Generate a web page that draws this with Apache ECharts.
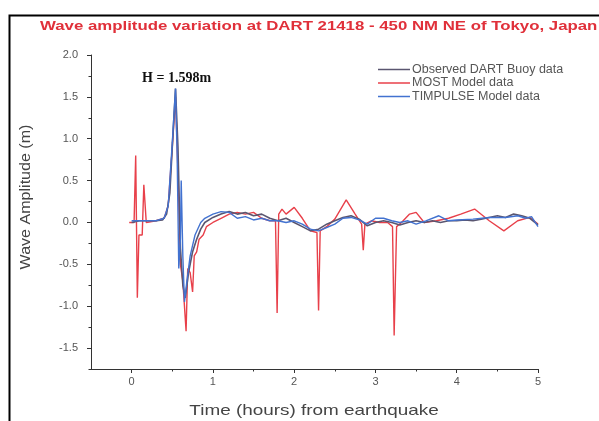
<!DOCTYPE html>
<html>
<head>
<meta charset="utf-8">
<script src="https://cdn.jsdelivr.net/npm/echarts@6/dist/echarts.min.js"></script>
<style>html,body{margin:0;padding:0;background:#fff}#c{width:599px;height:421px}</style>
</head>
<body>
<div id="c"></div>
<script>
const titleText = 'Wave amplitude variation at DART 21418 - 450 NM NE of Tokyo, Japan';
const xAxisTitle = 'Time (hours) from earthquake';
const yAxisTitle = 'Wave Amplitude (m)';
const seriesNames = ['Observed DART Buoy data', 'MOST Model data', 'TIMPULSE Model data'];
const xTickLabels = [0, 1, 2, 3, 4, 5];
const yTickLabels = [-1.5, -1.0, -0.5, 0.0, 0.5, 1.0, 1.5, 2.0];
const peakLabel = 'H = 1.598m';
const peakPoint = [0.54, 1.598];

const observed = [[0,0],[0.1,0.02],[0.2,0.02],[0.3,0.02],[0.38,0.03],[0.43,0.1],[0.47,0.35],[0.5,0.9],[0.54,1.598],[0.57,0.9],[0.6,-0.3],[0.63,-0.75],[0.66,-0.9],[0.7,-0.6],[0.75,-0.35],[0.8,-0.2],[0.85,-0.08],[0.9,0.0],[1.0,0.06],[1.1,0.1],[1.2,0.13],[1.3,0.1],[1.4,0.12],[1.5,0.08],[1.6,0.1],[1.7,0.05],[1.8,0.02],[1.9,0.05],[2.0,0.0],[2.1,-0.05],[2.2,-0.1],[2.3,-0.08],[2.4,-0.02],[2.5,0.02],[2.6,0.06],[2.7,0.08],[2.8,0.04],[2.9,-0.04],[3.0,0.0],[3.1,0.02],[3.2,0.0],[3.3,-0.03],[3.4,0.0],[3.5,0.02],[3.6,0.0],[3.7,0.02],[3.8,0.0],[3.9,0.02],[4.0,0.02],[4.1,0.03],[4.2,0.02],[4.3,0.04],[4.4,0.06],[4.5,0.08],[4.6,0.06],[4.7,0.1],[4.8,0.08],[4.9,0.05],[5.0,-0.03]];

const most = [[-0.03,0.0],[0.03,0.0],[0.05,0.8],[0.07,-0.9],[0.09,-0.15],[0.13,-0.15],[0.15,0.45],[0.18,0.0],[0.2,0.02],[0.3,0.02],[0.4,0.05],[0.45,0.2],[0.5,0.9],[0.54,1.5],[0.57,0.6],[0.6,-0.5],[0.63,-0.7],[0.67,-1.3],[0.69,-0.55],[0.72,-0.6],[0.75,-0.83],[0.77,-0.4],[0.8,-0.35],[0.83,-0.2],[0.88,-0.15],[0.92,-0.05],[1.0,0.0],[1.1,0.05],[1.2,0.1],[1.3,0.12],[1.4,0.1],[1.5,0.12],[1.6,0.05],[1.7,0.02],[1.77,0.02],[1.79,-1.08],[1.81,0.1],[1.85,0.16],[1.9,0.1],[2.0,0.18],[2.1,0.05],[2.2,-0.1],[2.28,-0.12],[2.3,-1.05],[2.32,-0.1],[2.4,-0.05],[2.5,0.04],[2.64,0.27],[2.75,0.1],[2.83,-0.02],[2.85,-0.33],[2.87,-0.02],[2.95,0.02],[3.05,0.0],[3.15,0.0],[3.21,-0.05],[3.23,-1.35],[3.26,-0.05],[3.32,0.0],[3.42,0.1],[3.5,0.12],[3.6,0.0],[3.75,0.02],[3.9,0.05],[4.05,0.1],[4.22,0.16],[4.4,0.02],[4.58,-0.1],[4.75,0.02],[4.9,0.06],[5.0,-0.02]];

const timpulse = [[0,0.02],[0.1,0.02],[0.2,0.02],[0.3,0.02],[0.4,0.05],[0.45,0.2],[0.5,0.95],[0.54,1.6],[0.56,0.8],[0.58,-0.55],[0.6,-0.2],[0.61,0.5],[0.63,-0.4],[0.65,-0.95],[0.68,-0.7],[0.72,-0.4],[0.78,-0.15],[0.85,0.0],[0.9,0.05],[1.0,0.1],[1.1,0.13],[1.2,0.12],[1.3,0.05],[1.4,0.07],[1.5,0.03],[1.6,0.05],[1.7,0.02],[1.8,0.02],[1.9,0.0],[2.0,0.02],[2.1,-0.02],[2.2,-0.08],[2.3,-0.1],[2.4,-0.06],[2.5,-0.02],[2.6,0.05],[2.7,0.06],[2.8,0.03],[2.9,-0.02],[3.0,0.05],[3.1,0.05],[3.2,0.02],[3.3,0.0],[3.4,0.02],[3.5,-0.02],[3.62,0.02],[3.78,0.08],[3.9,0.02],[4.0,0.03],[4.2,0.04],[4.4,0.06],[4.6,0.06],[4.75,0.08],[4.85,0.05],[4.92,0.07],[5.0,-0.05]];

const colors = {obs: '#5a5670', most: '#e8404a', tim: '#4272d0'};

const yMinor = [];
for (let v = -1.75; v <= 2.0001; v += 0.25) yMinor.push(+v.toFixed(2));
const xMinor = [];
for (let v = 0; v <= 5.0001; v += 0.5) xMinor.push(+v.toFixed(2));

const FONT = 'Liberation Sans, Arial, sans-serif';
const chart = echarts.init(document.getElementById('c'), null, {renderer: 'canvas'});
chart.setOption({
  animation: false,
  backgroundColor: '#fff',
  legend: {
    data: seriesNames, orient: 'vertical', left: 373, top: 58,
    icon: 'rect', itemWidth: 32, itemHeight: 1.5, itemGap: 0.5,
    textStyle: {color: '#555', fontSize: 12.5, fontFamily: FONT, padding: [0,0,0,-3]}
  },
  grid: {left: 91, right: 61, top: 55, bottom: 52},
  xAxis: [{
    type: 'value', min: -0.5, max: 5,
    axisLine: {show: true, onZero: false, lineStyle: {color: '#333', width: 1}},
    axisTick: {show: true, inside: false, length: 4, customValues: xTickLabels, lineStyle: {color: '#333'}},
    axisLabel: {customValues: xTickLabels, color: '#555', fontSize: 11, margin: 7, fontFamily: FONT},
    splitLine: {show: false}
  }, {
    type: 'value', min: -0.5, max: 5, position: 'bottom',
    axisLine: {show: false, onZero: false},
    axisTick: {show: true, length: 2.5, customValues: xMinor, lineStyle: {color: '#333'}},
    axisLabel: {show: false}, splitLine: {show: false}
  }],
  yAxis: [{
    type: 'value', min: -1.75, max: 2.0,
    axisLine: {show: true, onZero: false, lineStyle: {color: '#333', width: 1}},
    axisTick: {show: true, length: 4, customValues: yTickLabels, lineStyle: {color: '#333'}},
    axisLabel: {customValues: yTickLabels, color: '#555', fontSize: 11, margin: 13, fontFamily: FONT,
      formatter: v => v.toFixed(1)},
    splitLine: {show: false}
  }, {
    type: 'value', min: -1.75, max: 2.0, position: 'left',
    axisLine: {show: false, onZero: false},
    axisTick: {show: true, length: 2.5, customValues: yMinor, lineStyle: {color: '#333'}},
    axisLabel: {show: false}, splitLine: {show: false}
  }],
  series: [
    {name: seriesNames[1], type: 'line', data: most, showSymbol: false, symbol: 'none', lineStyle: {color: colors.most, width: 1.4}, itemStyle: {color: colors.most}, z: 2},
    {name: seriesNames[0], type: 'line', data: observed, showSymbol: false, symbol: 'none', lineStyle: {color: colors.obs, width: 1.6}, itemStyle: {color: colors.obs}, z: 3},
    {name: seriesNames[2], type: 'line', data: timpulse, showSymbol: false, symbol: 'none', lineStyle: {color: colors.tim, width: 1.4}, itemStyle: {color: colors.tim}, z: 4,
      markPoint: {symbol: 'circle', symbolSize: 1, itemStyle: {color: 'rgba(0,0,0,0)'}, silent: true,
        data: [{coord: peakPoint, value: peakLabel}],
        label: {show: true, formatter: peakLabel, position: 'inside', offset: [1, -10], color: '#111', fontSize: 14, fontWeight: 'bold', fontFamily: 'Liberation Serif, Times New Roman, serif'}}}
  ],
  graphic: [{
    type: 'rect', left: 7, top: 13, shape: {width: 620, height: 440},
    style: {fill: 'none', stroke: '#000', lineWidth: 2}, silent: true, z: -1
  }, {
    type: 'text', x: 40, y: 27, scaleX: 1.4, silent: true,
    style: {text: titleText, font: 'bold 12px ' + FONT, fill: '#e0303a', textAlign: 'left', textVerticalAlign: 'middle'}
  }, {
    type: 'text', x: 314, y: 411, scaleX: 1.26, silent: true,
    style: {text: xAxisTitle, font: '15px ' + FONT, fill: '#444', textAlign: 'center', textVerticalAlign: 'middle'}
  }, {
    type: 'text', x: 26, y: 197, rotation: Math.PI / 2, scaleX: 1.07, silent: true,
    style: {text: yAxisTitle, font: '15px ' + FONT, fill: '#444', textAlign: 'center', textVerticalAlign: 'middle'}
  }]
});
</script>
</body>
</html>
